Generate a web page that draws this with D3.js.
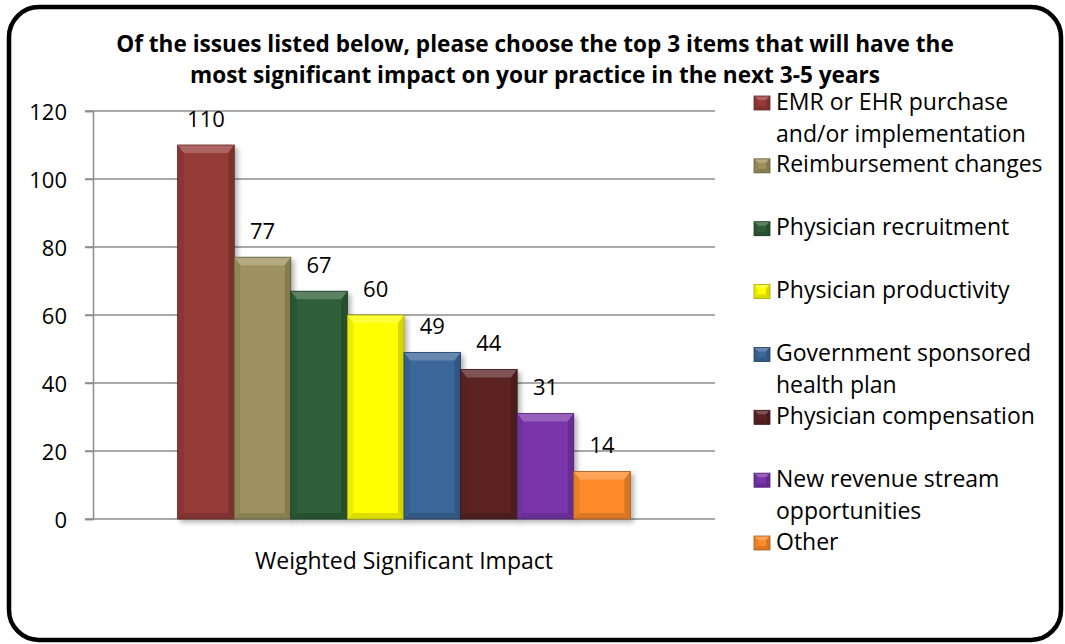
<!DOCTYPE html>
<html>
<head>
<meta charset="utf-8">
<script src="https://cdn.jsdelivr.net/npm/d3@7"></script>
<style>
  html, body { margin: 0; padding: 0; background: #fff; }
  svg { display: block; }
  text { font-family: "Open Sans", Lato, sans-serif; fill: #000; }
</style>
</head>
<body>
<svg id="chart" width="1065" height="644"></svg>
<script>
// Survey results: weighted significant impact of issues
const categories = ["Weighted Significant Impact"];
const seriesNames = [
  "EMR or EHR purchase and/or implementation",
  "Reimbursement changes",
  "Physician recruitment",
  "Physician productivity",
  "Government sponsored health plan",
  "Physician compensation",
  "New revenue stream opportunities",
  "Other"
];
const seriesValues = [110, 77, 67, 60, 49, 44, 31, 14];
const seriesColors = ["#953a38", "#9d925e", "#2f5e37", "#ffff00", "#3b6699", "#5b2323", "#7a35ab", "#ff8a2a"];
const yTicks = [0, 20, 40, 60, 80, 100, 120];
const titleLines = [
  "Of the issues listed below, please choose the top 3 items that will have the",
  "most significant impact on your practice in the next 3-5 years"
];

const FONT = "'Open Sans', Lato, sans-serif";
const svg = d3.select("#chart");
const plot = { left: 93, right: 715, top: 111, bottom: 519 };

// Frame
svg.append("rect")
  .attr("x", 9).attr("y", 7).attr("width", 1052).attr("height", 633)
  .attr("rx", 30).attr("ry", 30)
  .attr("fill", "#fff").attr("stroke", "#000").attr("stroke-width", 4.5);

// Shadow filter for bars
const defs = svg.append("defs");
const f = defs.append("filter").attr("id", "shadow")
  .attr("x", "-20%").attr("y", "-20%").attr("width", "150%").attr("height", "150%");
f.append("feDropShadow").attr("dx", 3).attr("dy", 3).attr("stdDeviation", 2.5)
  .attr("flood-color", "#000").attr("flood-opacity", 0.3);

// Scales
const y = d3.scaleLinear().domain([0, 120]).range([plot.bottom, plot.top]);
const x0 = d3.scaleBand().domain(categories).range([plot.left, plot.right])
  .paddingInner(0).paddingOuter(0.187);
const x1 = d3.scaleBand().domain(seriesNames).range([0, x0.bandwidth()]).padding(0);
const color = d3.scaleOrdinal().domain(seriesNames).range(seriesColors);

// Gridlines
svg.append("g").selectAll("line").data(yTicks).join("line")
  .attr("x1", plot.left - 8).attr("x2", plot.right)
  .attr("y1", d => y(d)).attr("y2", d => y(d))
  .attr("stroke", "#8c8c8c").attr("stroke-width", 1.5);

// Y axis
const yAxis = svg.append("g")
  .attr("transform", `translate(${plot.left},0)`)
  .call(d3.axisLeft(y).tickValues(yTicks).tickSize(8).tickPadding(18));
yAxis.select(".domain").attr("stroke", "#8c8c8c").attr("stroke-width", 1.5);
yAxis.selectAll(".tick line").attr("stroke", "#8c8c8c").attr("stroke-width", 1.5);
yAxis.selectAll(".tick text")
  .style("font-family", FONT)
  .attr("font-size", 22).attr("dy", "0.38em").attr("fill", "#000");

// X axis (category label)
const xAxis = svg.append("g")
  .attr("transform", `translate(0,${plot.bottom})`)
  .call(d3.axisBottom(x0).tickSize(0).tickPadding(0));
xAxis.select(".domain").remove();
xAxis.selectAll(".tick text")
  .style("font-family", FONT)
  .attr("font-size", 23).attr("y", 50).attr("dy", 0).attr("fill", "#000");

// Beveled box drawing
function bevel(g, x, yTop, w, h, base, bt, bs) {
  const top = d3.interpolateRgb(base, "#fff")(0.22);
  const left = d3.interpolateRgb(base, "#000")(0.08);
  const right = d3.interpolateRgb(base, "#000")(0.16);
  const bottom = d3.interpolateRgb(base, "#000")(0.14);
  const x2 = x + w, y2 = yTop + h;
  g.append("rect").attr("x", x).attr("y", yTop).attr("width", w).attr("height", h)
    .attr("fill", base);
  const poly = (pts, fill) => g.append("polygon")
    .attr("points", pts.map(p => p.join(",")).join(" ")).attr("fill", fill);
  poly([[x, yTop], [x2, yTop], [x2 - bs, yTop + bt], [x + bs, yTop + bt]], top);
  poly([[x, yTop], [x + bs, yTop + bt], [x + bs, y2 - bs], [x, y2]], left);
  poly([[x2, yTop], [x2, y2], [x2 - bs, y2 - bs], [x2 - bs, yTop + bt]], right);
  poly([[x, y2], [x + bs, y2 - bs], [x2 - bs, y2 - bs], [x2, y2]], bottom);
  g.append("rect").attr("x", x).attr("y", yTop).attr("width", w).attr("height", h)
    .attr("fill", "none").attr("stroke", d3.interpolateRgb(base, "#000")(0.35))
    .attr("stroke-width", 0.8);
}

// Bars
const barsG = svg.append("g");
categories.forEach(cat => {
  seriesNames.forEach((s, i) => {
    const v = seriesValues[i];
    const bx = x0(cat) + x1(s);
    const g = barsG.append("g").attr("filter", "url(#shadow)");
    bevel(g, bx, y(v), x1.bandwidth(), y(0) - y(v), color(s), 8, 6);
  });
});

// Value labels
svg.append("g").selectAll("text").data(seriesNames).join("text")
  .attr("x", s => x0(categories[0]) + x1(s) + x1.bandwidth() / 2)
  .attr("y", (s, i) => y(seriesValues[i]) - 18.5)
  .attr("text-anchor", "middle")
  .attr("font-size", 22)
  .text((s, i) => seriesValues[i]);

// Title
svg.append("g").selectAll("text").data(titleLines).join("text")
  .attr("x", 535).attr("y", (d, i) => 52 + i * 31)
  .attr("text-anchor", "middle")
  .attr("font-size", 22.6).attr("font-weight", "bold")
  .text(d => d);

// Legend
const legendY = d3.scaleLinear().domain([0, seriesNames.length - 1]).range([103, 543]);
const legend = svg.append("g");
const wrapWidth = 274;
seriesNames.forEach((s, i) => {
  const cy = legendY(i);
  const g = legend.append("g");
  bevel(g, 754, cy - 7, 16, 14, color(s), 4, 4);
  const t = g.append("text").attr("x", 776).attr("y", cy + 6.5).attr("font-size", 23);
  // Word-wrap the label
  const words = s.split(" ");
  let line = [];
  let tspan = t.append("tspan").attr("x", 776).attr("dy", 0);
  words.forEach(w => {
    line.push(w);
    tspan.text(line.join(" "));
    if (tspan.node().getComputedTextLength() > wrapWidth && line.length > 1) {
      line.pop();
      tspan.text(line.join(" "));
      line = [w];
      tspan = t.append("tspan").attr("x", 776).attr("dy", 32).text(w);
    }
  });
});
</script>
</body>
</html>
